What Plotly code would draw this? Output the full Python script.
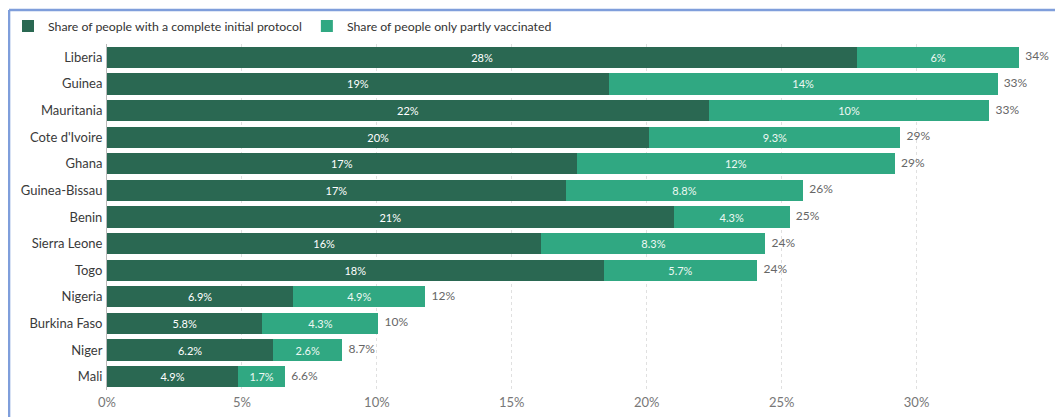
import plotly.graph_objects as go

countries = ["Liberia", "Guinea", "Mauritania", "Cote d'Ivoire", "Ghana", "Guinea-Bissau",
             "Benin", "Sierra Leone", "Togo", "Nigeria", "Burkina Faso", "Niger", "Mali"]
complete = [27.8, 18.6, 22.3, 20.1, 17.4, 17.0, 21.0, 16.1, 18.4, 6.9, 5.76, 6.16, 4.86]
partly = [6.0, 14.4, 10.4, 9.3, 11.8, 8.8, 4.3, 8.3, 5.7, 4.9, 4.3, 2.56, 1.74]
totals = [round(a + b, 2) for a, b in zip(complete, partly)]

tick_vals = [0, 5, 10, 15, 20, 25, 30]
tick_text = ["0%", "5%", "10%", "15%", "20%", "25%", "30%"]

DARK = "#2a6852"
LIGHT = "#30a882"
FONT = "Lato"

fig = go.Figure()
fig.add_trace(go.Bar(
    y=countries, x=complete, orientation="h", name="Share of people with a complete initial protocol",
    marker=dict(color=DARK, line=dict(width=0)),
    texttemplate="%{x:.2~g}%", textposition="inside", insidetextanchor="middle",
    textangle=0, constraintext="none",
    textfont=dict(color="#ffffff", size=11, family=FONT), hoverinfo="skip",
))
fig.add_trace(go.Bar(
    y=countries, x=partly, orientation="h", name="Share of people only partly vaccinated",
    marker=dict(color=LIGHT, line=dict(width=0)),
    texttemplate="%{x:.2~g}%", textposition="inside", insidetextanchor="middle",
    textangle=0, constraintext="none",
    textfont=dict(color="#eef8f3", size=11, family=FONT), hoverinfo="skip",
))
fig.add_trace(go.Scatter(
    y=countries, x=totals, mode="text", texttemplate="  %{x:.2~g}%",
    textposition="middle right", cliponaxis=False, showlegend=False,
    textfont=dict(color="#666666", size=12, family=FONT), hoverinfo="skip",
))

# page has an 8px body margin, so figure coordinates are screen - 8
W, H = 1055, 409
L, R, T, B = 99, 24.5, 36, 27
pw = W - L - R
ph = H - T - B

def px_to_paper_x(px):
    return (px - L) / pw

def px_to_paper_y(py):
    return (H - B - py) / ph

frame_color = "#7f9edb"
fig.add_shape(type="line", xref="paper", yref="paper",
              x0=px_to_paper_x(1), x1=px_to_paper_x(W + 5),
              y0=px_to_paper_y(2), y1=px_to_paper_y(2),
              line=dict(color=frame_color, width=2.5))
fig.add_shape(type="line", xref="paper", yref="paper",
              x0=px_to_paper_x(1), x1=px_to_paper_x(1),
              y0=px_to_paper_y(2), y1=px_to_paper_y(H + 5),
              line=dict(color=frame_color, width=2.5))

fig.update_layout(
    width=W, height=H,
    margin=dict(l=L, r=R, t=T, b=B, pad=0, autoexpand=False),
    barmode="stack", bargap=0.2,
    paper_bgcolor="white", plot_bgcolor="white",
    font=dict(family=FONT, size=11, color="#333333"),
    showlegend=True,
    legend=dict(orientation="h", xref="container", yref="container",
                x=-10 / W, xanchor="left", y=1 - 18 / H, yanchor="middle",
                traceorder="normal",
                font=dict(size=12.3, color="#333333", family=FONT),
                itemwidth=30, tracegroupgap=0, bgcolor="rgba(0,0,0,0)"),
    xaxis=dict(range=[0, 34.5], tickvals=tick_vals, ticktext=tick_text,
               showgrid=True, gridcolor="#e0e0e0", griddash="dot", gridwidth=1,
               zeroline=False, showline=False, ticks="", ticklabelstandoff=3,
               tickfont=dict(size=13, color="#777777", family=FONT),
               automargin=False, fixedrange=True),
    yaxis=dict(categoryorder="array", categoryarray=countries,
               range=[len(countries) - 0.5, -0.5], autorange=False,
               showgrid=False, zeroline=False, showline=True, linecolor="#bbbbbb", linewidth=1,
               ticks="", ticklabelstandoff=1,
               tickfont=dict(size=13, color="#3a3a3a", family=FONT),
               automargin=False, fixedrange=True),
)

fig.write_html("out.html")
